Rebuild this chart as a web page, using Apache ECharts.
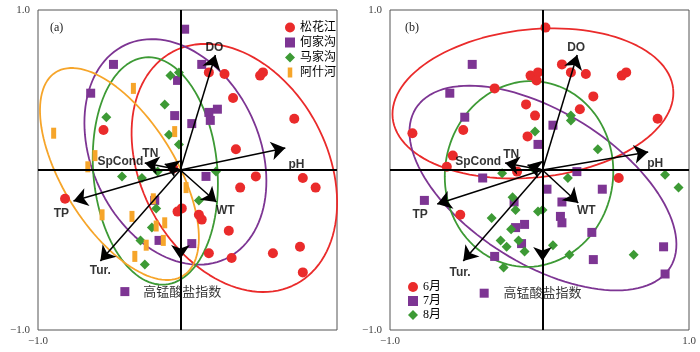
<!DOCTYPE html>
<html>
<head>
<meta charset="utf-8">
<script src="https://cdn.jsdelivr.net/npm/echarts@6.0.0/dist/echarts.min.js"></script>
<style>
  html, body { margin: 0; padding: 0; background: #fff; }
  #chart { width: 700px; height: 352px; }
</style>
</head>
<body>
<div id="chart"></div>
<script>
// panel (a): river groups
const songhua = [[0.2,0.61],[0.31,0.6],[0.58,0.61],[0.56,0.59],[0.37,0.45],[0.8,0.32],[-0.54,0.25],[0.39,0.13],[-0.05,0.01],[0.53,-0.04],[0.86,-0.05],[-0.81,-0.18],[0.42,-0.11],[0.95,-0.11],[-0.02,-0.26],[0.01,-0.24],[0.13,-0.28],[0.15,-0.31],[0.34,-0.38],[0.2,-0.52],[0.36,-0.55],[0.65,-0.52],[0.84,-0.48],[0.86,-0.64]];
const hejia = [[0.03,0.88],[-0.47,0.66],[-0.63,0.48],[0.15,0.66],[-0.02,0.56],[-0.04,0.34],[0.08,0.29],[0.2,0.36],[0.26,0.38],[0.21,0.31],[0.18,-0.04],[-0.18,-0.19],[-0.15,-0.44],[0.08,-0.46],[-0.39,-0.76]];
const majia = [[-0.07,0.59],[-0.01,0.61],[-0.11,0.41],[-0.52,0.33],[-0.08,0.22],[-0.01,0.16],[-0.16,-0.01],[-0.41,-0.04],[0.25,-0.01],[-0.27,-0.05],[0.13,-0.19],[-0.17,-0.24],[-0.2,-0.36],[-0.28,-0.44],[-0.25,-0.59]];
const ashi = [[-0.33,0.51],[-0.04,0.24],[-0.89,0.23],[-0.6,0.09],[-0.65,0.02],[0.04,-0.11],[-0.55,-0.28],[-0.34,-0.29],[-0.19,-0.18],[-0.11,-0.33],[-0.17,-0.35],[-0.24,-0.47],[-0.12,-0.44],[-0.32,-0.54]];

// panel (b): months
const june = [[0.02,0.89],[0.13,0.66],[0.19,0.61],[0.29,0.6],[0.53,0.59],[0.56,0.61],[-0.08,0.59],[-0.03,0.61],[-0.04,0.56],[-0.32,0.51],[0.34,0.46],[-0.11,0.41],[0.25,0.38],[-0.05,0.34],[0.77,0.32],[-0.53,0.25],[-0.87,0.23],[-0.1,0.21],[-0.6,0.09],[-0.64,0.02],[-0.17,-0.01],[0.51,-0.05],[-0.55,-0.28]];
const july = [[-0.47,0.66],[-0.62,0.48],[-0.52,0.33],[0.07,0.28],[-0.03,0.16],[-0.4,-0.05],[0.23,-0.01],[-0.79,-0.19],[-0.19,-0.2],[0.03,-0.12],[0.4,-0.12],[0.13,-0.2],[0.12,-0.29],[0.13,-0.33],[0.33,-0.39],[-0.12,-0.34],[-0.18,-0.36],[-0.14,-0.46],[-0.32,-0.54],[0.34,-0.56],[0.81,-0.48],[0.82,-0.65],[-0.39,-0.77]];
const august = [[0.19,0.34],[0.19,0.31],[-0.05,0.24],[0.37,0.13],[-0.06,0.01],[-0.27,-0.02],[0.17,-0.05],[0.82,-0.03],[0.91,-0.11],[-0.2,-0.17],[-0.18,-0.25],[-0.34,-0.3],[-0.03,-0.26],[0,-0.25],[-0.21,-0.37],[-0.28,-0.44],[-0.24,-0.48],[-0.16,-0.44],[-0.12,-0.51],[0.07,-0.47],[0.18,-0.53],[0.61,-0.53],[-0.26,-0.61]];

// loadings
const arrowNames = ['DO', 'pH', 'SpCond', 'TN', 'TP', 'Tur.', '高锰酸盐指数', 'WT'];
const arrowEndA = [[0.246,0.719],[0.737,0.138],[-0.25,0.044],[-0.11,0.037],[-0.751,-0.194],[-0.562,-0.569],[0,-0.556],[0.253,-0.2]];
const arrowEndB = [[0.232,0.719],[0.707,0.113],[-0.25,0.044],[-0.1,0.031],[-0.704,-0.213],[-0.53,-0.569],[0,-0.569],[0.239,-0.206]];
const labelPosA = [[0.239,0.763],[0.815,0.031],[-0.421,0.05],[-0.211,0.1],[-0.836,-0.275],[-0.562,-0.631],[0.014,-0.769],[0.316,-0.256]];
const labelPosB = [[0.225,0.763],[0.754,0.038],[-0.43,0.05],[-0.209,0.094],[-0.819,-0.281],[-0.551,-0.644],[0,-0.775],[0.293,-0.256]];

// confidence ellipses: centre, half-axis vectors (data units)
const ellSonghua = { c: [0.379, 0.013], u: [0.435, -0.725], v: [0.576, 0.275] };
const ellHejia = { c: [-0.035, 0.113], u: [0.351, -0.669], v: [0.534, 0.222] };
const ellMajia = { c: [-0.176, -0.006], u: [0.07, -0.71], v: [0.434, 0.034] };
const ellAshi = { c: [-0.428, -0.025], u: [0.447, -0.636], v: [0.334, 0.186] };
const ellJune = { c: [-0.064, 0.416], u: [0.938, 0.092], v: [0.052, -0.46] };
const ellJuly = { c: [0.003, -0.113], u: [0.851, -0.497], v: [-0.27, -0.403] };
const ellAugust = { c: [-0.09, -0.025], u: [0.086, 0.576], v: [0.557, -0.073] };

const RED = '#ea2b2b', PURPLE = '#7d3593', GREEN = '#3d9a35', ORANGE = '#f6a52a';
const serif = '"Liberation Serif", "Noto Sans CJK SC", serif';
const sans = '"Liberation Sans", Arial, sans-serif';

function ellipse(e) {
  const pts = [];
  for (let i = 0; i <= 120; i++) {
    const t = i / 120 * Math.PI * 2;
    pts.push([
      e.c[0] + e.u[0] * Math.cos(t) + e.v[0] * Math.sin(t),
      e.c[1] + e.u[1] * Math.cos(t) + e.v[1] * Math.sin(t)
    ]);
  }
  return pts;
}

function ellSeries(e, color, idx) {
  return {
    type: 'line', xAxisIndex: idx, yAxisIndex: idx, data: ellipse(e),
    showSymbol: false, symbol: 'none', smooth: false, silent: true, z: 2,
    lineStyle: { color: color, width: 1.8 }
  };
}

function pointSeries(name, data, symbol, size, color, idx) {
  return {
    name: name, type: 'scatter', xAxisIndex: idx, yAxisIndex: idx, data: data,
    symbol: symbol, symbolSize: size, z: 3,
    itemStyle: { color: color, opacity: 1 }
  };
}

function arrowSeries(ends, labels, idx) {
  return {
    type: 'scatter', xAxisIndex: idx, yAxisIndex: idx, symbolSize: 0, z: 5, silent: true,
    data: labels.map((p, i) => ({
      value: p, name: arrowNames[i],
      label: i === 6 ? { fontFamily: serif, fontWeight: 'normal', fontSize: 13 } : {}
    })),
    label: {
      show: true, position: 'inside', formatter: '{b}',
      color: '#000', fontFamily: sans, fontWeight: 'bold', fontSize: 12
    },
    markLine: {
      silent: true, symbol: ['none', 'arrow'], symbolSize: 14, precision: 3,
      label: { show: false },
      lineStyle: { color: '#000', width: 1.5, type: 'solid' },
      data: ends.map(p => [{ coord: [0, 0] }, { coord: p }])
    }
  };
}

function zeroLines(idx) {
  return {
    type: 'scatter', xAxisIndex: idx, yAxisIndex: idx, data: [], z: 4, silent: true,
    markLine: {
      silent: true, symbol: 'none', label: { show: false },
      lineStyle: { color: '#000', width: 2, type: 'solid' },
      data: [{ xAxis: 0 }, { yAxis: 0 }]
    }
  };
}

const fmt = v => v.toFixed(1).replace('-', '\u2212');
const axisLabelStyle = { color: '#444', fontFamily: serif, fontSize: 11 };

const chart = echarts.init(document.getElementById('chart'));
chart.setOption({
  animation: false,
  backgroundColor: '#fff',
  title: [
    { text: '(a)', left: 45, top: 17, textStyle: { fontFamily: serif, fontSize: 12, fontWeight: 'normal', color: '#222' } },
    { text: '(b)', left: 400, top: 17, textStyle: { fontFamily: serif, fontSize: 12, fontWeight: 'normal', color: '#222' } }
  ],
  legend: [
    {
      data: [
        { name: '松花江', icon: 'circle' },
        { name: '何家沟', icon: 'rect' },
        { name: '马家沟', icon: 'diamond' },
        { name: '阿什河', icon: 'path://M0,0h5v11h-5z' }
      ],
      orient: 'vertical', left: 280, top: 16, itemWidth: 10, itemHeight: 10, itemGap: 2,
      selectedMode: false,
      textStyle: { fontFamily: serif, fontSize: 12, lineHeight: 13, color: '#000' }
    },
    {
      data: [
        { name: '6月', icon: 'circle' },
        { name: '7月', icon: 'rect' },
        { name: '8月', icon: 'diamond' }
      ],
      orient: 'vertical', left: 403, top: 276, itemWidth: 10, itemHeight: 10, itemGap: 2,
      selectedMode: false,
      textStyle: { fontFamily: serif, fontSize: 12, lineHeight: 12, color: '#000' }
    }
  ],
  grid: [
    { left: 38, top: 10, width: 299, height: 320, show: true, borderColor: '#555', borderWidth: 1 },
    { left: 390, top: 10, width: 299, height: 320, show: true, borderColor: '#555', borderWidth: 1 }
  ],
  xAxis: [
    {
      gridIndex: 0, type: 'value', min: -1, max: 1.1, interval: 2.1,
      axisLine: { show: false }, axisTick: { show: false }, splitLine: { show: false },
      axisLabel: Object.assign({ margin: 6, formatter: v => (v < 0 ? fmt(v) : '') }, axisLabelStyle)
    },
    {
      gridIndex: 1, type: 'value', min: -1.02, max: 0.98, interval: 2,
      axisLine: { show: false }, axisTick: { show: false }, splitLine: { show: false },
      axisLabel: Object.assign({ margin: 6, formatter: fmt }, axisLabelStyle)
    }
  ],
  yAxis: [
    {
      gridIndex: 0, type: 'value', min: -1, max: 1, interval: 2,
      axisLine: { show: false }, axisTick: { show: false }, splitLine: { show: false },
      axisLabel: Object.assign({ margin: 8, formatter: fmt }, axisLabelStyle)
    },
    {
      gridIndex: 1, type: 'value', min: -1, max: 1, interval: 2,
      axisLine: { show: false }, axisTick: { show: false }, splitLine: { show: false },
      axisLabel: Object.assign({ margin: 8, formatter: fmt }, axisLabelStyle)
    }
  ],
  series: [
    ellSeries(ellSonghua, RED, 0),
    ellSeries(ellHejia, PURPLE, 0),
    ellSeries(ellMajia, GREEN, 0),
    ellSeries(ellAshi, ORANGE, 0),
    pointSeries('松花江', songhua, 'circle', 10, RED, 0),
    pointSeries('何家沟', hejia, 'rect', 9, PURPLE, 0),
    pointSeries('马家沟', majia, 'diamond', 10, GREEN, 0),
    pointSeries('阿什河', ashi, 'rect', [5, 11], ORANGE, 0),
    zeroLines(0),
    arrowSeries(arrowEndA, labelPosA, 0),

    ellSeries(ellJune, RED, 1),
    ellSeries(ellJuly, PURPLE, 1),
    ellSeries(ellAugust, GREEN, 1),
    pointSeries('6月', june, 'circle', 10, RED, 1),
    pointSeries('7月', july, 'rect', 9, PURPLE, 1),
    pointSeries('8月', august, 'diamond', 10, GREEN, 1),
    zeroLines(1),
    arrowSeries(arrowEndB, labelPosB, 1)
  ]
});
</script>
</body>
</html>
